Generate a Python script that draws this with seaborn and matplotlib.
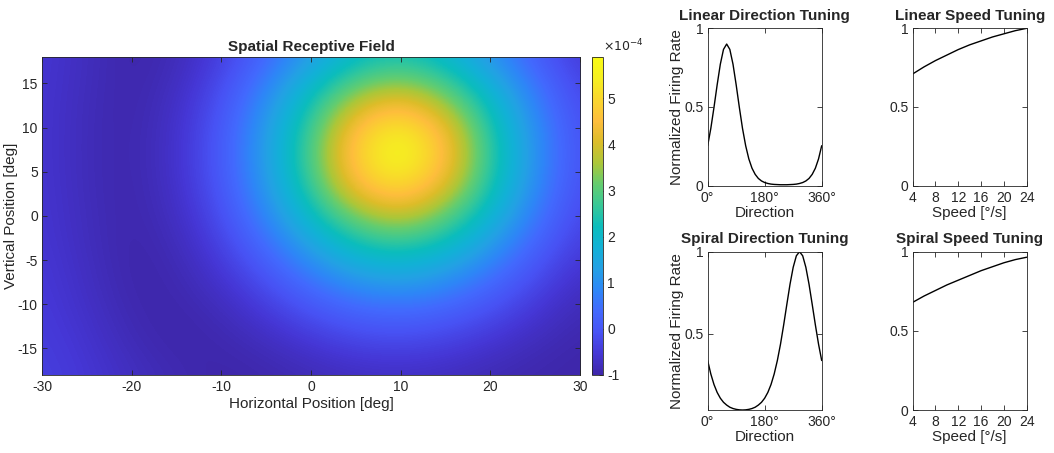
import numpy as np
import matplotlib
matplotlib.use("Agg")
import matplotlib.pyplot as plt
from matplotlib.colors import LinearSegmentedColormap
import seaborn as sns

# ---- data ----
# spatial receptive field (units of 1e-4), rows from y=18 (top) down to y=-18
rf_x = [-30, -25, -20, -15, -10, -5, 0, 5, 10, 15, 20, 25, 30]
rf_y = [18, 15, 12, 9, 6, 3, 0, -3, -6, -9, -12, -15, -18]
rf_vals = [
    [-0.55, -0.78, -0.98, -0.85, -0.40, 0.31, 1.26, 2.08, 2.38, 1.95, 1.07, 0.15, -0.51],
    [-0.56, -0.80, -0.97, -0.78, -0.22, 0.71, 1.92, 3.01, 3.44, 2.81, 1.66, 0.50, -0.35],
    [-0.57, -0.82, -0.97, -0.70, -0.07, 1.04, 2.47, 4.07, 4.75, 3.74, 2.18, 0.78, -0.22],
    [-0.57, -0.83, -0.96, -0.66, 0.03, 1.24, 2.81, 4.79, 5.68, 4.46, 2.47, 0.96, -0.14],
    [-0.57, -0.83, -0.96, -0.65, 0.05, 1.26, 2.87, 4.90, 5.79, 4.55, 2.54, 0.99, -0.13],
    [-0.56, -0.82, -0.97, -0.68, -0.03, 1.13, 2.60, 4.40, 5.09, 4.03, 2.31, 0.85, -0.19],
    [-0.55, -0.80, -0.97, -0.75, -0.16, 0.83, 2.12, 3.34, 3.92, 3.11, 1.86, 0.60, -0.30],
    [-0.53, -0.78, -0.98, -0.83, -0.34, 0.45, 1.47, 2.39, 2.70, 2.25, 1.26, 0.27, -0.45],
    [-0.50, -0.74, -0.98, -0.90, -0.53, 0.05, 0.83, 1.50, 1.73, 1.37, 0.67, -0.08, -0.63],
    [-0.47, -0.70, -0.95, -0.95, -0.72, -0.29, 0.23, 0.70, 0.85, 0.62, 0.13, -0.39, -0.80],
    [-0.44, -0.64, -0.90, -0.98, -0.87, -0.59, -0.23, 0.05, 0.15, -0.01, -0.30, -0.65, -0.91],
    [-0.41, -0.58, -0.83, -0.96, -0.95, -0.82, -0.60, -0.40, -0.35, -0.44, -0.64, -0.85, -0.97],
    [-0.38, -0.53, -0.75, -0.90, -0.98, -0.94, -0.84, -0.74, -0.70, -0.76, -0.87, -0.95, -0.98],
]
rf_min, rf_max = -1.0, 5.9

# direction tuning (deg)
direction = [0, 10, 20, 30, 40, 50, 60, 70, 80, 90, 100, 110, 120, 130, 140, 150, 160, 170, 180,
             190, 200, 210, 220, 230, 240, 250, 260, 270, 280, 290, 300, 310, 320, 330, 340, 350, 360]
linear_dir = [0.254, 0.364, 0.498, 0.641, 0.772, 0.866, 0.900, 0.866, 0.772, 0.641, 0.498, 0.364,
              0.254, 0.170, 0.111, 0.072, 0.046, 0.030, 0.020, 0.014, 0.010, 0.008, 0.007, 0.006,
              0.006, 0.006, 0.007, 0.008, 0.010, 0.014, 0.020, 0.030, 0.046, 0.072, 0.111, 0.170, 0.254]
spiral_dir = [0.338, 0.256, 0.192, 0.144, 0.109, 0.084, 0.067, 0.054, 0.046, 0.041, 0.038, 0.037,
              0.038, 0.041, 0.046, 0.054, 0.067, 0.084, 0.109, 0.144, 0.192, 0.256, 0.338, 0.438,
              0.555, 0.680, 0.802, 0.905, 0.975, 1.000, 0.975, 0.905, 0.802, 0.680, 0.555, 0.438, 0.338]

# speed tuning (deg/s)
speed = [4, 6, 8, 10, 12, 14, 16, 18, 20, 22, 24]
linear_speed = [0.71, 0.755, 0.795, 0.83, 0.865, 0.895, 0.92, 0.945, 0.965, 0.985, 1.0]
spiral_speed = [0.68, 0.72, 0.755, 0.79, 0.82, 0.85, 0.88, 0.905, 0.93, 0.95, 0.965]

# ---- style ----
sns.set_theme(style="white")
plt.rcParams['font.family'] = ['Liberation Sans', 'DejaVu Sans']
TXT = '#262626'
plt.rcParams.update({
    'axes.unicode_minus': False,
    'axes.edgecolor': TXT, 'axes.linewidth': 0.6,
    'xtick.color': TXT, 'ytick.color': TXT,
    'xtick.direction': 'in', 'ytick.direction': 'in',
    'xtick.major.size': 3.5, 'ytick.major.size': 3.5,
    'xtick.major.width': 0.6, 'ytick.major.width': 0.6,
    'xtick.labelsize': 10, 'ytick.labelsize': 10,
    'xtick.major.pad': 3.5, 'ytick.major.pad': 3.0,
    'text.color': TXT, 'axes.labelcolor': TXT,
})

# MATLAB parula anchors
parula_pts = [
    (0.2422, 0.1504, 0.6603), (0.2706, 0.2147, 0.8364), (0.2810, 0.3228, 0.9579),
    (0.2602, 0.4123, 0.9952), (0.1786, 0.5289, 0.9682), (0.1380, 0.6276, 0.8973),
    (0.0689, 0.6948, 0.8394), (0.0433, 0.7411, 0.7394), (0.2161, 0.7843, 0.5923),
    (0.3909, 0.8029, 0.4354), (0.6720, 0.7793, 0.2227), (0.8634, 0.7406, 0.1596),
    (0.9956, 0.7434, 0.2371), (0.9786, 0.8386, 0.1766), (0.9628, 0.9373, 0.1265),
    (0.9769, 0.9839, 0.0805),
]
parula = LinearSegmentedColormap.from_list('parula', parula_pts)


def style_box(ax):
    ax.tick_params(top=True, right=True, bottom=True, left=True)
    for s in ax.spines.values():
        s.set_visible(True)
        s.set_color(TXT)


fig = plt.figure(figsize=(10.54, 4.53), dpi=100)

# ---- receptive field ----
ax = fig.add_axes([0.0398, 0.1722, 0.5105, 0.7020])
data = np.array(rf_vals)
dx = (rf_x[1] - rf_x[0]) / 2
dy = (rf_y[0] - rf_y[1]) / 2
im = ax.imshow(data, cmap=parula, vmin=rf_min, vmax=rf_max, aspect='auto',
               interpolation='bicubic', origin='upper',
               extent=[rf_x[0] - dx, rf_x[-1] + dx, rf_y[-1] - dy, rf_y[0] + dy])
ax.set_xticks(range(-30, 31, 10))
ax.set_yticks(range(-15, 16, 5))
ax.set_xlim(-30, 30)
ax.set_ylim(-18, 18)
ax.set_xlabel('Horizontal Position [deg]', fontsize=11, labelpad=2)
ax.set_ylabel('Vertical Position [deg]', fontsize=11, labelpad=0)
ax.set_title('Spatial Receptive Field', fontsize=11, fontweight='bold', pad=4)
style_box(ax)

cax = fig.add_axes([0.5617, 0.1722, 0.0104, 0.7020])
cb = fig.colorbar(im, cax=cax)
cb.set_ticks(range(-1, 6))
cb.outline.set_edgecolor(TXT)
cb.outline.set_linewidth(0.6)
cax.tick_params(direction='in', length=3, labelsize=10, pad=3)
cax.text(1.0, 1.01, r'$\times10^{-4}$', transform=cax.transAxes, fontsize=9,
         ha='left', va='bottom', color=TXT)

# ---- tuning curves ----
panels = [
    ([0.6714, 0.5901, 0.1082, 0.3474], direction, linear_dir, 'Linear Direction Tuning', 'dir'),
    ([0.8659, 0.5901, 0.1082, 0.3474], speed, linear_speed, 'Linear Speed Tuning', 'speed'),
    ([0.6714, 0.0949, 0.1082, 0.3495], direction, spiral_dir, 'Spiral Direction Tuning', 'dir'),
    ([0.8659, 0.0949, 0.1082, 0.3495], speed, spiral_speed, 'Spiral Speed Tuning', 'speed'),
]
for rect, xs, ys, title, kind in panels:
    a = fig.add_axes(rect)
    sns.lineplot(x=xs, y=ys, ax=a, color='black', linewidth=1.0)
    a.set_title(title, fontsize=11, fontweight='bold', pad=6)
    if kind == 'dir':
        a.set_xticks([0, 180, 360])
        a.set_xticklabels(['0°', '180°', '360°'])
        a.set_xlim(0, 360)
        a.set_xlabel('Direction', fontsize=11, labelpad=1)
        a.set_ylabel('Normalized Firing Rate', fontsize=11, labelpad=0)
        if title.startswith('Linear'):
            a.set_yticks([0, 0.5, 1])
            a.set_yticklabels(['0', '0.5', '1'])
            a.set_ylim(0, 1)
        else:
            a.set_yticks([0.5, 1])
            a.set_yticklabels(['0.5', '1'])
            a.set_ylim(min(ys), 1)
    else:
        a.set_xticks(range(4, 25, 4))
        a.set_xlim(4, 24)
        a.set_xlabel('Speed [°/s]', fontsize=11, labelpad=1)
        a.set_yticks([0, 0.5, 1])
        a.set_yticklabels(['0', '0.5', '1'])
        a.set_ylim(0, 1)
    style_box(a)

fig.savefig('out.png', dpi=100)
